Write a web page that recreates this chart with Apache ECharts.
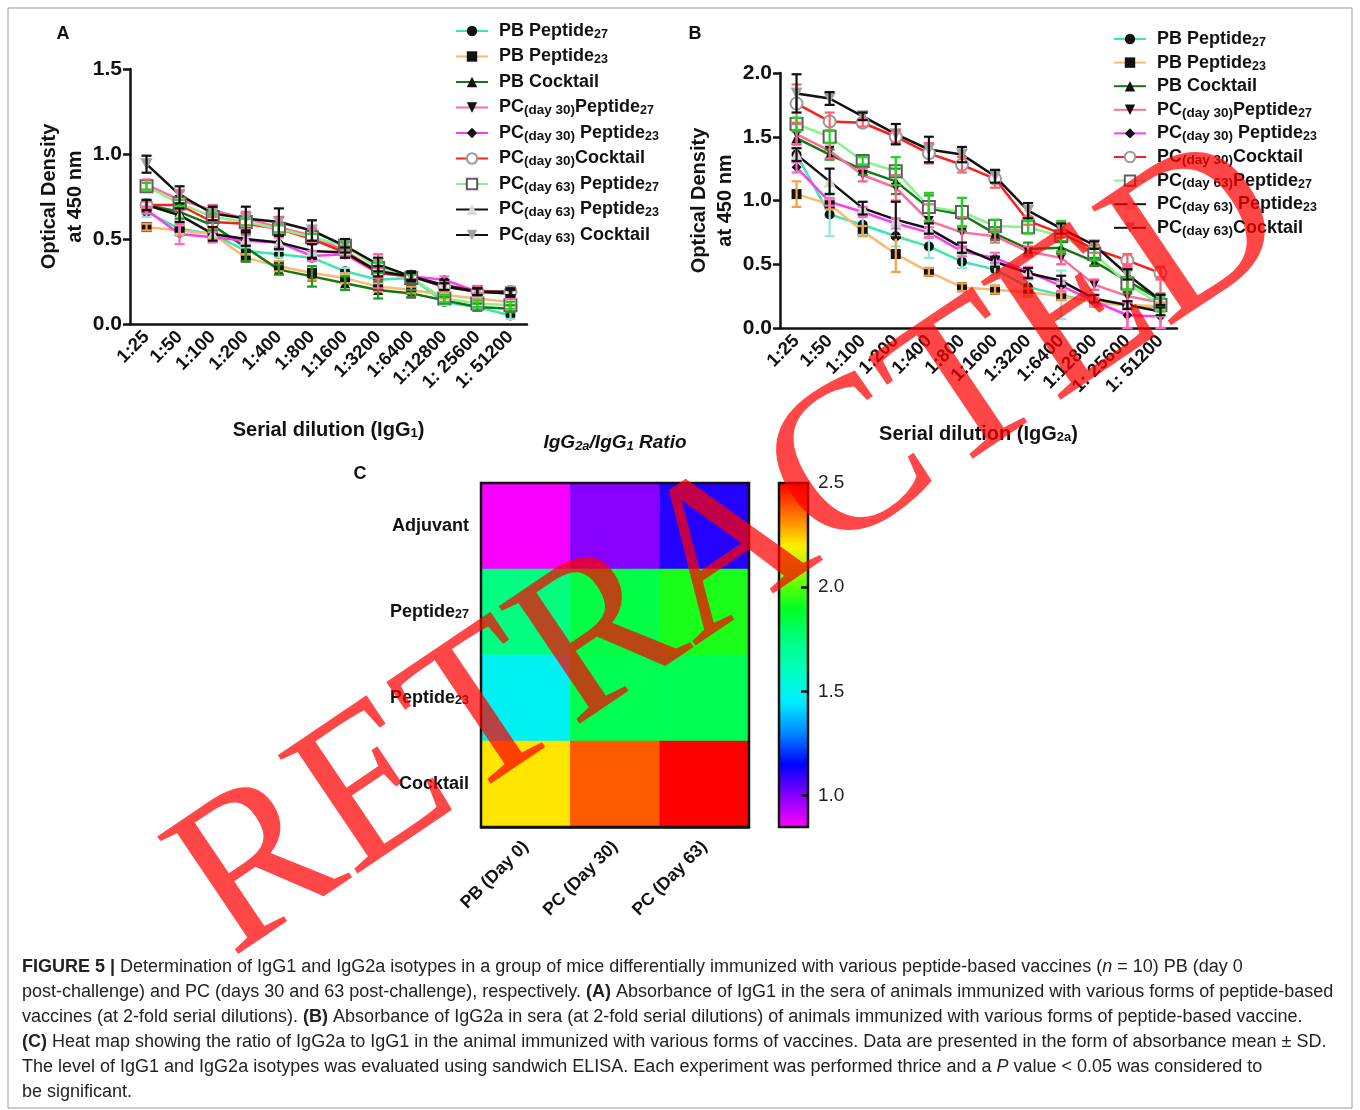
<!DOCTYPE html>
<html>
<head>
<meta charset="utf-8">
<title>Figure 5</title>
<script src="https://cdn.jsdelivr.net/npm/echarts@6.0.0/dist/echarts.min.js"></script>
<style>
    html, body { margin: 0; padding: 0; background: #fff; }
    #main { width: 1360px; height: 1110px; }
</style>
</head>
<body>
<div id="main"></div>
<script>
var dilutions = ['1:25', '1:50', '1:100', '1:200', '1:400', '1:800', '1:1600', '1:3200', '1:6400', '1:12800', '1: 25600', '1: 51200']
var seriesNames = ['PB Peptide27', 'PB Peptide23', 'PB Cocktail', 'PC30 Peptide27', 'PC30 Peptide23', 'PC30 Cocktail', 'PC63 Peptide27', 'PC63 Peptide23', 'PC63 Cocktail']
var legendLabelsA = ['PB Peptide{s|27}', 'PB Peptide{s|23}', 'PB Cocktail', 'PC{d|(day 30)}Peptide{s|27}', 'PC{d|(day 30)} Peptide{s|23}', 'PC{d|(day 30)}Cocktail', 'PC{d|(day 63)} Peptide{s|27}', 'PC{d|(day 63)} Peptide{s|23}', 'PC{d|(day 63)} Cocktail']
var legendLabelsB = ['PB Peptide{s|27}', 'PB Peptide{s|23}', 'PB Cocktail', 'PC{d|(day 30)}Peptide{s|27}', 'PC{d|(day 30)} Peptide{s|23}', 'PC{d|(day 30)}Cocktail', 'PC{d|(day 63)}Peptide{s|27}', 'PC{d|(day 63)} Peptide{s|23}', 'PC{d|(day 63)}Cocktail']

// A: IgG1, optical density at 450 nm (mean and SD)
var aPbPep27 = [0.66, 0.56, 0.53, 0.43, 0.41, 0.39, 0.31, 0.26, 0.27, 0.13, 0.10, 0.05]
var aPbPep23 = [0.57, 0.55, 0.53, 0.39, 0.34, 0.30, 0.27, 0.22, 0.20, 0.17, 0.15, 0.13]
var aPbCocktail = [0.70, 0.66, 0.58, 0.45, 0.32, 0.28, 0.24, 0.20, 0.18, 0.14, 0.10, 0.09]
var aPc30Pep27 = [0.82, 0.73, 0.67, 0.62, 0.57, 0.52, 0.43, 0.31, 0.28, 0.22, 0.20, 0.18]
var aPc30Pep23 = [0.67, 0.53, 0.51, 0.49, 0.48, 0.40, 0.41, 0.30, 0.28, 0.26, 0.19, 0.18]
var aPc30Cocktail = [0.70, 0.70, 0.60, 0.59, 0.56, 0.50, 0.42, 0.30, 0.28, 0.22, 0.19, 0.19]
var aPc63Pep27 = [0.81, 0.71, 0.63, 0.60, 0.56, 0.51, 0.46, 0.33, 0.27, 0.15, 0.12, 0.11]
var aPc63Pep23 = [0.70, 0.64, 0.53, 0.50, 0.48, 0.43, 0.42, 0.31, 0.28, 0.22, 0.19, 0.18]
var aPc63Cocktail = [0.94, 0.76, 0.65, 0.62, 0.60, 0.55, 0.46, 0.35, 0.28, 0.23, 0.19, 0.19]

var aPbPep27Sd = [0.03, 0.03, 0.02, 0.02, 0.02, 0.02, 0.02, 0.02, 0.02, 0.02, 0.02, 0.02]
var aPbPep23Sd = [0.02, 0.03, 0.03, 0.02, 0.03, 0.04, 0.03, 0.03, 0.02, 0.02, 0.02, 0.02]
var aPbCocktailSd = [0.03, 0.04, 0.03, 0.08, 0.03, 0.06, 0.04, 0.05, 0.02, 0.02, 0.02, 0.02]
var aPc30Pep27Sd = [0.03, 0.05, 0.03, 0.04, 0.06, 0.04, 0.03, 0.10, 0.02, 0.02, 0.02, 0.03]
var aPc30Pep23Sd = [0.02, 0.06, 0.03, 0.03, 0.03, 0.03, 0.02, 0.03, 0.02, 0.02, 0.02, 0.02]
var aPc30CocktailSd = [0.02, 0.03, 0.03, 0.03, 0.03, 0.03, 0.03, 0.03, 0.02, 0.02, 0.02, 0.02]
var aPc63Pep27Sd = [0.02, 0.02, 0.02, 0.02, 0.02, 0.02, 0.02, 0.03, 0.02, 0.02, 0.02, 0.02]
var aPc63Pep23Sd = [0.03, 0.04, 0.04, 0.04, 0.04, 0.04, 0.03, 0.03, 0.02, 0.02, 0.02, 0.02]
var aPc63CocktailSd = [0.05, 0.05, 0.04, 0.07, 0.08, 0.06, 0.04, 0.04, 0.03, 0.03, 0.02, 0.02]

// B: IgG2a, optical density at 450 nm (mean and SD)
var bPbPep27 = [1.36, 0.89, 0.81, 0.72, 0.64, 0.52, 0.46, 0.32, 0.26, 0.20, 0.18, 0.16]
var bPbPep23 = [1.05, 0.97, 0.76, 0.58, 0.44, 0.32, 0.30, 0.28, 0.25, 0.20, 0.18, 0.17]
var bPbCocktail = [1.49, 1.36, 1.24, 1.15, 0.94, 0.89, 0.74, 0.62, 0.63, 0.52, 0.37, 0.22]
var bPc30Pep27 = [1.52, 1.39, 1.20, 1.10, 0.84, 0.75, 0.72, 0.60, 0.55, 0.34, 0.25, 0.20]
var bPc30Pep23 = [1.26, 0.99, 0.91, 0.82, 0.75, 0.60, 0.55, 0.44, 0.33, 0.21, 0.10, 0.09]
var bPc30Cocktail = [1.76, 1.62, 1.61, 1.50, 1.37, 1.28, 1.17, 0.84, 0.74, 0.62, 0.53, 0.43]
var bPc63Pep27 = [1.60, 1.50, 1.31, 1.23, 0.95, 0.91, 0.80, 0.79, 0.72, 0.58, 0.35, 0.18]
var bPc63Pep23 = [1.36, 1.15, 0.94, 0.85, 0.78, 0.63, 0.52, 0.43, 0.37, 0.23, 0.18, 0.13]
var bPc63Cocktail = [1.84, 1.80, 1.66, 1.52, 1.40, 1.36, 1.19, 0.92, 0.78, 0.65, 0.42, 0.22]

var bPbPep27Sd = [0.05, 0.17, 0.08, 0.08, 0.09, 0.05, 0.04, 0.06, 0.19, 0.03, 0.03, 0.03]
var bPbPep23Sd = [0.10, 0.04, 0.04, 0.14, 0.03, 0.03, 0.03, 0.03, 0.03, 0.03, 0.03, 0.03]
var bPbCocktailSd = [0.05, 0.04, 0.04, 0.10, 0.10, 0.13, 0.05, 0.05, 0.05, 0.03, 0.10, 0.05]
var bPc30Pep27Sd = [0.08, 0.06, 0.05, 0.10, 0.13, 0.12, 0.05, 0.04, 0.05, 0.04, 0.25, 0.20]
var bPc30Pep23Sd = [0.04, 0.03, 0.04, 0.04, 0.04, 0.04, 0.04, 0.04, 0.04, 0.03, 0.10, 0.10]
var bPc30CocktailSd = [0.15, 0.07, 0.03, 0.05, 0.08, 0.06, 0.07, 0.03, 0.03, 0.03, 0.05, 0.05]
var bPc63Pep27Sd = [0.05, 0.05, 0.03, 0.11, 0.11, 0.11, 0.05, 0.05, 0.12, 0.05, 0.05, 0.05]
var bPc63Pep23Sd = [0.05, 0.10, 0.05, 0.14, 0.04, 0.04, 0.04, 0.04, 0.04, 0.03, 0.03, 0.03]
var bPc63CocktailSd = [0.15, 0.05, 0.03, 0.08, 0.10, 0.06, 0.05, 0.06, 0.04, 0.03, 0.04, 0.04]

// C: IgG2a/IgG1 ratio
var groups = ['PB (Day 0)', 'PC (Day 30)', 'PC (Day 63)']
var vaccines = ['Adjuvant', 'Peptide{s|27}', 'Peptide{s|23}', 'Cocktail']
var ratioPbDay0 = [0.86, 1.75, 1.48, 2.21]
var ratioPcDay30 = [1.00, 1.84, 1.82, 2.38]
var ratioPcDay63 = [1.11, 1.93, 1.82, 2.50]
var ratioTicks = [1.0, 1.5, 2.0, 2.5]

var captionLines = [
    '{b|FIGURE 5 |} Determination of IgG1 and IgG2a isotypes in a group of mice differentially immunized with various peptide-based vaccines ({i|n} = 10) PB (day 0',
    'post-challenge) and PC (days 30 and 63 post-challenge), respectively. {b|(A)} Absorbance of IgG1 in the sera of animals immunized with various forms of peptide-based',
    'vaccines (at 2-fold serial dilutions). {b|(B)} Absorbance of IgG2a in sera (at 2-fold serial dilutions) of animals immunized with various forms of peptide-based vaccine.',
    '{b|(C)} Heat map showing the ratio of IgG2a to IgG1 in the animal immunized with various forms of vaccines. Data are presented in the form of absorbance mean \u00b1 SD.',
    'The level of IgG1 and IgG2a isotypes was evaluated using sandwich ELISA. Each experiment was performed thrice and a {i|P} value < 0.05 was considered to',
    'be significant.'
]

var font = "'Liberation Sans', Arial, sans-serif"
var lineColors = ['#3de6b0', '#fbb870', '#137813', '#ff6b9c', '#ff3cf0', '#ff1c1c', '#8cf08c', '#111111', '#111111']
var errColors = ['#8fe8d4', '#f5a04a', '#1f9a1f', '#ff5c95', '#ff66c8', '#ff6070', '#22d422', '#111111', '#111111']
var markerColors = ['#111', '#111', '#111', '#111', '#111', '#9a9a9a', '#5e5e5e', '#d8d8d8', '#a0a0a0']
var symbols = ['circle', 'rect', 'triangle', 'triangle', 'diamond', 'emptyCircle', 'emptyRect', 'triangle', 'triangle']
var rotations = [0, 0, 0, 180, 0, 0, 0, 0, 180]
var rainbow = ['#ff00ff', '#8800ff', '#0000ff', '#0088ff', '#00eeff', '#00ffc0', '#00ff80', '#00ff20', '#80ff00', '#ffee00', '#ff7000', '#ff0000']

var subRich = {
    s: { fontSize: 12.5, fontWeight: 'bold', fontFamily: font, color: '#111', verticalAlign: 'bottom', lineHeight: 11 },
    d: { fontSize: 13.5, fontWeight: 'bold', fontFamily: font, color: '#111', verticalAlign: 'bottom', lineHeight: 12 }
}

function lineSeries(k, gi, means) {
    return {
        name: seriesNames[k],
        type: 'line',
        xAxisIndex: gi,
        yAxisIndex: gi,
        data: means,
        symbol: symbols[k],
        symbolSize: k >= 5 ? 12 : 10,
        symbolRotate: rotations[k],
        lineStyle: { color: lineColors[k], width: 2.5 },
        itemStyle: { color: markerColors[k], borderColor: markerColors[k], borderWidth: (k == 5 || k == 6) ? 3 : 0 },
        z: 2,
        animation: false
    }
}

function errorSeries(k, gi, means, sds) {
    var data = []
    for (var i = 0; i < means.length; i++) {
        data.push([i, Math.max(0, means[i] - sds[i]), means[i] + sds[i]])
    }
    return {
        name: 'sd' + gi + '_' + k,
        type: 'custom',
        xAxisIndex: gi,
        yAxisIndex: gi,
        z: 3,
        silent: true,
        animation: false,
        encode: { x: 0, y: [1, 2] },
        data: data,
        renderItem: function (params, api) {
            var lo = api.coord([api.value(0), api.value(1)])
            var hi = api.coord([api.value(0), api.value(2)])
            var st = { stroke: errColors[k], lineWidth: 2.2 }
            return {
                type: 'group',
                children: [
                    { type: 'line', shape: { x1: lo[0], y1: lo[1], x2: hi[0], y2: hi[1] }, style: st },
                    { type: 'line', shape: { x1: lo[0] - 5, y1: lo[1], x2: lo[0] + 5, y2: lo[1] }, style: st },
                    { type: 'line', shape: { x1: hi[0] - 5, y1: hi[1], x2: hi[0] + 5, y2: hi[1] }, style: st }
                ]
            }
        }
    }
}

var panelA = [aPbPep27, aPbPep23, aPbCocktail, aPc30Pep27, aPc30Pep23, aPc30Cocktail, aPc63Pep27, aPc63Pep23, aPc63Cocktail]
var panelASd = [aPbPep27Sd, aPbPep23Sd, aPbCocktailSd, aPc30Pep27Sd, aPc30Pep23Sd, aPc30CocktailSd, aPc63Pep27Sd, aPc63Pep23Sd, aPc63CocktailSd]
var panelB = [bPbPep27, bPbPep23, bPbCocktail, bPc30Pep27, bPc30Pep23, bPc30Cocktail, bPc63Pep27, bPc63Pep23, bPc63Cocktail]
var panelBSd = [bPbPep27Sd, bPbPep23Sd, bPbCocktailSd, bPc30Pep27Sd, bPc30Pep23Sd, bPc30CocktailSd, bPc63Pep27Sd, bPc63Pep23Sd, bPc63CocktailSd]

var series = []
for (var k = 0; k < 9; k++) {
    series.push(lineSeries(k, 0, panelA[k]))
    series.push(errorSeries(k, 0, panelA[k], panelASd[k]))
}
for (var k = 0; k < 9; k++) {
    series.push(lineSeries(k, 1, panelB[k]))
    series.push(errorSeries(k, 1, panelB[k], panelBSd[k]))
}

var heatData = []
var ratioCols = [ratioPbDay0, ratioPcDay30, ratioPcDay63]
for (var c = 0; c < ratioCols.length; c++) {
    for (var r = 0; r < vaccines.length; r++) {
        heatData.push([c, r, ratioCols[c][r]])
    }
}
var heatIndex = series.length
series.push({
    type: 'heatmap',
    xAxisIndex: 2,
    yAxisIndex: 2,
    data: heatData,
    itemStyle: { borderWidth: 0 },
    emphasis: { disabled: true },
    animation: false
})

function dilutionAxis(gi, name) {
    return {
        gridIndex: gi,
        type: 'category',
        data: dilutions,
        boundaryGap: true,
        name: name,
        nameLocation: 'middle',
        nameGap: 96,
        nameTextStyle: { fontSize: 20, fontWeight: 'bold', fontFamily: font, color: '#111', rich: { s: { fontSize: 13, fontWeight: 'bold', fontFamily: font, color: '#111', verticalAlign: 'bottom', lineHeight: 12 } } },
        axisLine: { lineStyle: { color: '#111', width: 2.5 } },
        axisTick: { alignWithLabel: true, length: 8, lineStyle: { color: '#111', width: 2.5 } },
        axisLabel: { interval: 0, rotate: 45, margin: 10, fontSize: 18.5, fontWeight: 'bold', fontFamily: font, color: '#111' },
        splitLine: { show: false }
    }
}

function odAxis(gi, max) {
    return {
        gridIndex: gi,
        type: 'value',
        min: 0,
        max: max,
        interval: 0.5,
        name: 'Optical Density\nat 450 nm',
        nameLocation: 'middle',
        nameGap: 31,
        nameTextStyle: { fontSize: 20, fontWeight: 'bold', fontFamily: font, color: '#111', lineHeight: 26 },
        axisLine: { show: true, lineStyle: { color: '#111', width: 2.5 } },
        axisTick: { show: true, length: 7, lineStyle: { color: '#111', width: 2.5 } },
        axisLabel: { margin: 8, fontSize: 21, fontWeight: 'bold', fontFamily: font, color: '#111', formatter: function (v) { return v.toFixed(1) } },
        splitLine: { show: false }
    }
}

function legendFor(left, top, gap, labels) {
    return {
        data: seriesNames,
        orient: 'vertical',
        left: left,
        top: top,
        padding: 0,
        itemWidth: 32,
        itemHeight: 13,
        itemGap: gap,
        selectedMode: false,
        formatter: function (n) { return labels[seriesNames.indexOf(n)] },
        textStyle: { fontSize: 18, fontWeight: 'bold', fontFamily: font, color: '#111', lineHeight: 20, padding: [0, 0, 0, 6], rich: subRich }
    }
}

var graphics = [
    { type: 'rect', shape: { x: 8, y: 8, width: 1344, height: 1100 }, style: { fill: 'none', stroke: '#9a9a9a', lineWidth: 1 }, z: 1 },
    { type: 'rect', shape: { x: 481, y: 483, width: 268, height: 344 }, style: { fill: 'none', stroke: '#111', lineWidth: 2.5 }, z: 50 },
    { type: 'rect', shape: { x: 779, y: 483, width: 29, height: 344 }, style: { fill: 'none', stroke: '#111', lineWidth: 2.5 }, z: 50 },
    { type: 'text', x: 63, y: 34, style: { text: 'A', fontSize: 18, fontWeight: 'bold', fontFamily: font, fill: '#111', align: 'center', verticalAlign: 'middle' }, z: 50 },
    { type: 'text', x: 695, y: 34, style: { text: 'B', fontSize: 18, fontWeight: 'bold', fontFamily: font, fill: '#111', align: 'center', verticalAlign: 'middle' }, z: 50 },
    { type: 'text', x: 360, y: 474, style: { text: 'C', fontSize: 18, fontWeight: 'bold', fontFamily: font, fill: '#111', align: 'center', verticalAlign: 'middle' }, z: 50 },
    {
        type: 'text', x: 615, y: 443,
        style: {
            text: 'IgG{s|2a}/IgG{s|1} Ratio', fontSize: 19, fontWeight: 'bold', fontStyle: 'italic', fontFamily: font, fill: '#111', align: 'center', verticalAlign: 'middle',
            rich: { s: { fontSize: 13, fontWeight: 'bold', fontStyle: 'italic', fontFamily: font, fill: '#111', verticalAlign: 'bottom', lineHeight: 11 } }
        },
        z: 50
    }
]
for (var i = 0; i < captionLines.length; i++) {
    graphics.push({
        type: 'text', x: 22, y: 967 + i * 25,
        style: {
            text: captionLines[i], fontSize: 18, fontFamily: font, fill: '#222', verticalAlign: 'middle',
            rich: {
                b: { fontSize: 18, fontWeight: 'bold', fontFamily: font, fill: '#222' },
                i: { fontSize: 18, fontStyle: 'italic', fontFamily: font, fill: '#222' }
            }
        },
        z: 50
    })
}
graphics.push({
    type: 'text', x: 732, y: 552, rotation: 0.593,
    style: { text: 'RETRACTED', fontSize: 218, fontFamily: "'Liberation Serif', 'Times New Roman', serif", fill: 'rgba(255,0,0,0.72)', align: 'center', verticalAlign: 'middle' },
    z: 100
})

var myChart = echarts.init(document.getElementById('main'), null, { renderer: 'canvas' })
option = {
    backgroundColor: '#fff',
    animation: false,
    grid: [
        { left: 130, top: 69, width: 397, height: 255, outerBoundsMode: 'none' },
        { left: 780, top: 73, width: 397, height: 255, outerBoundsMode: 'none' },
        { left: 481, top: 483, width: 268, height: 344, outerBoundsMode: 'none' },
        { left: 779, top: 483, width: 29, height: 344, outerBoundsMode: 'none' }
    ],
    xAxis: [
        dilutionAxis(0, 'Serial dilution (IgG{s|1})'),
        dilutionAxis(1, 'Serial dilution (IgG{s|2a})'),
        {
            gridIndex: 2,
            type: 'category',
            data: groups,
            axisLine: { lineStyle: { color: '#111', width: 2.5 } },
            axisTick: { alignWithLabel: true, length: 9, lineStyle: { color: '#111', width: 2.5 } },
            axisLabel: { interval: 0, rotate: 45, margin: 17, fontSize: 17.5, fontWeight: 'bold', fontFamily: font, color: '#111' },
            splitArea: { show: false }
        },
        { gridIndex: 3, type: 'value', show: false, min: 0, max: 1 }
    ],
    yAxis: [
        odAxis(0, 1.5),
        odAxis(1, 2.0),
        {
            gridIndex: 2,
            type: 'category',
            data: vaccines,
            inverse: true,
            axisLine: { lineStyle: { color: '#111', width: 2.5 } },
            axisTick: { alignWithLabel: true, length: 8, lineStyle: { color: '#111', width: 2.5 } },
            axisLabel: { interval: 0, margin: 12, fontSize: 18, fontWeight: 'bold', fontFamily: font, color: '#111', rich: subRich },
            splitArea: { show: false }
        },
        {
            gridIndex: 3,
            type: 'value',
            position: 'right',
            min: 0.85,
            max: 2.5,
            z: 10,
            axisLine: { show: false, onZero: false },
            axisTick: { show: true, inside: true, length: 7, customValues: [1.0, 1.5, 2.0], lineStyle: { color: '#111', width: 2.5 } },
            axisLabel: { margin: 10, fontSize: 19, fontFamily: font, color: '#222', customValues: ratioTicks, formatter: function (v) { return v.toFixed(1) } },
            splitLine: { show: false }
        }
    ],
    legend: [
        legendFor(455, 21, 5.5, legendLabelsA),
        legendFor(1113, 29, 3.6, legendLabelsB)
    ],
    visualMap: {
        type: 'continuous',
        seriesIndex: heatIndex,
        dimension: 2,
        min: 0.85,
        max: 2.5,
        orient: 'vertical',
        left: 779,
        top: 483,
        itemWidth: 29,
        itemHeight: 344,
        padding: 0,
        z: 2,
        calculable: false,
        text: null,
        inRange: { color: rainbow }
    },
    graphic: graphics,
    series: series
}
myChart.setOption(option, true)
</script>
</body>
</html>
